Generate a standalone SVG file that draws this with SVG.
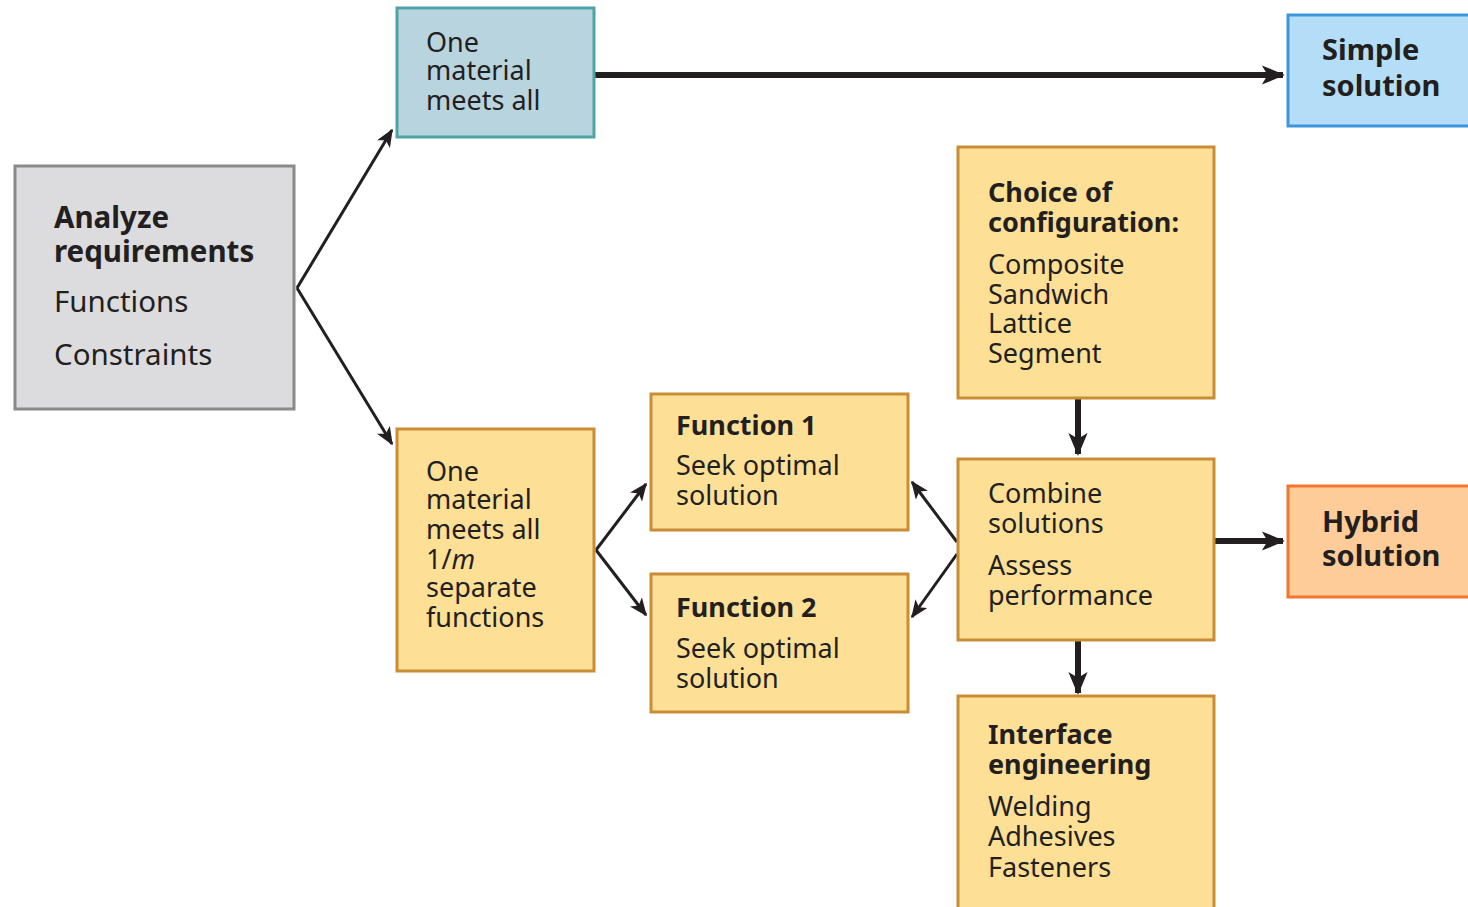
<svg xmlns="http://www.w3.org/2000/svg" width="1468" height="907" viewBox="0 0 1468 907">
<style>
text{font-family:"Noto Sans","Liberation Sans",sans-serif;fill:#231f20;font-size:27px}
.b{font-weight:bold}
.big{font-size:29.5px}
.res{font-size:29px;font-weight:bold}
.gray{fill:#dcdcdf;stroke:#8a8a8c;stroke-width:3}
.teal{fill:#b8d4df;stroke:#4fa3a6;stroke-width:3}
.blue{fill:#b4def7;stroke:#3d96dc;stroke-width:3}
.yel{fill:#fddf96;stroke:#c98d35;stroke-width:3}
.org{fill:#fdcc98;stroke:#f27530;stroke-width:3}
.thin{stroke:#231f20;stroke-width:3;fill:none;marker-end:url(#ah)}
.thick{stroke:#231f20;stroke-width:6;fill:none;marker-end:url(#ahk)}
</style>
<defs>
<marker id="ah" viewBox="0 0 12 10" refX="11" refY="5" markerWidth="6" markerHeight="5" orient="auto" markerUnits="strokeWidth">
<path d="M0,0 L12,5 L0,10 L3,5 Z" fill="#231f20"/>
</marker>
<marker id="ahk" viewBox="0 0 12 10" refX="11" refY="5" markerWidth="4" markerHeight="3.2" orient="auto" markerUnits="strokeWidth">
<path d="M0,0 L12,5 L0,10 L3,5 Z" fill="#231f20"/>
</marker>
</defs>
<g id="connectors">
<line class="thick" x1="595" y1="75" x2="1283" y2="75"/>
<line class="thin" x1="297" y1="288" x2="392" y2="130"/>
<line class="thin" x1="297" y1="288" x2="392" y2="444"/>
<line class="thin" x1="596" y1="550" x2="646" y2="484"/>
<line class="thin" x1="596" y1="550" x2="646" y2="615"/>
<line class="thin" x1="957" y1="542" x2="912" y2="482"/>
<line class="thin" x1="957" y1="554" x2="912" y2="617"/>
<line class="thick" x1="1078" y1="399" x2="1078" y2="454"/>
<line class="thick" x1="1215" y1="541" x2="1283" y2="541"/>
<line class="thick" x1="1078" y1="641" x2="1078" y2="693"/>
</g>
<g id="analyze">
<rect class="gray" x="15" y="166" width="279" height="243"/>
<text x="54" y="228" class="b big">Analyze</text>
<text x="54" y="262" class="b big">requirements</text>
<text x="54" y="312" class="big">Functions</text>
<text x="54" y="365" class="big">Constraints</text>
</g>
<g id="one-material">
<rect class="teal" x="397" y="8" width="197" height="129"/>
<text x="426" y="52">One</text>
<text x="426" y="80">material</text>
<text x="426" y="110">meets all</text>
</g>
<g id="simple">
<rect class="blue" x="1288" y="15" width="182" height="111"/>
<text x="1322" y="60" class="res">Simple</text>
<text x="1322" y="96" class="res">solution</text>
</g>
<g id="separate">
<rect class="yel" x="397" y="429" width="197" height="242"/>
<text x="426" y="481">One</text>
<text x="426" y="509">material</text>
<text x="426" y="539">meets all</text>
<text x="426" y="569">1/<tspan font-style="italic">m</tspan></text>
<text x="426" y="597">separate</text>
<text x="426" y="627">functions</text>
</g>
<g id="function1">
<rect class="yel" x="651" y="394" width="257" height="136"/>
<text x="676" y="435" class="b">Function 1</text>
<text x="676" y="475">Seek optimal</text>
<text x="676" y="505">solution</text>
</g>
<g id="function2">
<rect class="yel" x="651" y="574" width="257" height="138"/>
<text x="676" y="617" class="b">Function 2</text>
<text x="676" y="658">Seek optimal</text>
<text x="676" y="688">solution</text>
</g>
<g id="choice">
<rect class="yel" x="958" y="147" width="256" height="251"/>
<text x="988" y="202" class="b">Choice of</text>
<text x="988" y="232" class="b">configuration:</text>
<text x="988" y="274">Composite</text>
<text x="988" y="304">Sandwich</text>
<text x="988" y="333">Lattice</text>
<text x="988" y="363">Segment</text>
</g>
<g id="combine">
<rect class="yel" x="958" y="459" width="256" height="181"/>
<text x="988" y="503">Combine</text>
<text x="988" y="533">solutions</text>
<text x="988" y="575">Assess</text>
<text x="988" y="605">performance</text>
</g>
<g id="hybrid">
<rect class="org" x="1288" y="486" width="182" height="111"/>
<text x="1322" y="532" class="res">Hybrid</text>
<text x="1322" y="566" class="res">solution</text>
</g>
<g id="interface">
<rect class="yel" x="958" y="696" width="256" height="214"/>
<text x="988" y="744" class="b">Interface</text>
<text x="988" y="774" class="b">engineering</text>
<text x="988" y="816">Welding</text>
<text x="988" y="846">Adhesives</text>
<text x="988" y="877">Fasteners</text>
</g>
</svg>
